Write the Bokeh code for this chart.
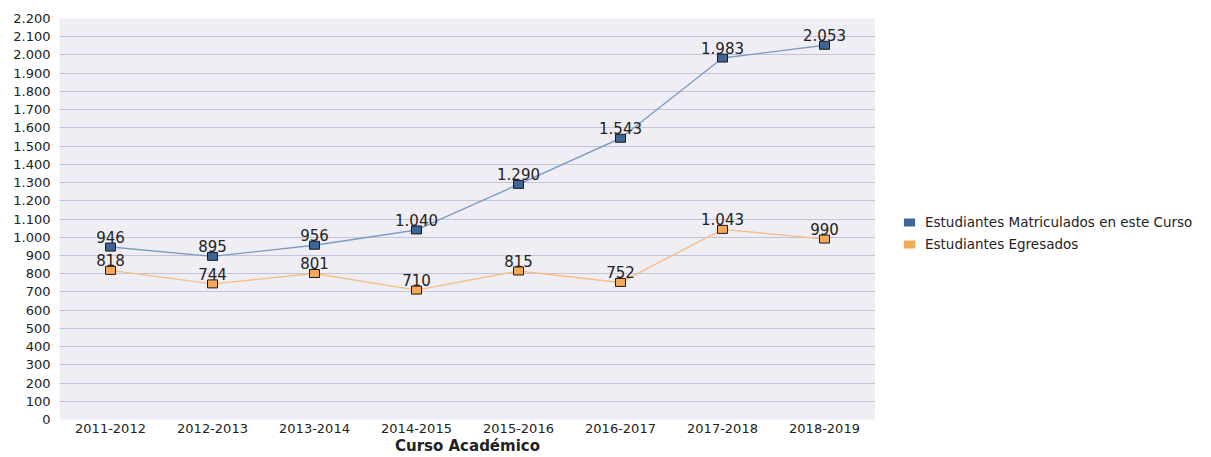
from bokeh.plotting import figure
from bokeh.layouts import row
from bokeh.models import ColumnDataSource, FixedTicker, Legend, LegendItem, Range1d
from bokeh.core.properties import value
from bokeh.embed import file_html
from bokeh.resources import INLINE

courses = ["2011-2012", "2012-2013", "2013-2014", "2014-2015",
           "2015-2016", "2016-2017", "2017-2018", "2018-2019"]
matriculados = [946, 895, 956, 1040, 1290, 1543, 1983, 2053]
egresados = [818, 744, 801, 710, 815, 752, 1043, 990]
y_ticks = list(range(0, 2201, 100))
series_names = ["Estudiantes Matriculados en este Curso", "Estudiantes Egresados"]
x_title = "Curso Académico"


def fmt(v):
    return f"{v:,}".replace(",", ".")


FONT = "DejaVu Sans"

p = figure(x_range=courses, width=875, height=457, output_backend="svg",
           toolbar_location=None, min_border_left=59, min_border_right=0,
           min_border_top=18, min_border_bottom=38)
p.y_range = Range1d(0, 2200)
p.background_fill_color = "#EFEEF4"
p.border_fill_color = "white"
p.outline_line_color = None
p.xgrid.grid_line_color = None
p.ygrid.grid_line_color = "#C4C3D9"
p.ygrid.grid_line_width = 1
p.yaxis.ticker = FixedTicker(ticks=y_ticks)
p.yaxis.major_label_overrides = {t: fmt(t) for t in y_ticks}

for ax in (p.xaxis, p.yaxis):
    ax.axis_line_color = None
    ax.major_tick_line_color = None
    ax.minor_tick_line_color = None
    ax.major_tick_out = 0
    ax.major_tick_in = 0
    ax.major_label_text_font = FONT
    ax.major_label_text_font_size = "13px"
    ax.major_label_text_color = "#222222"
p.yaxis.major_label_standoff = 9
p.xaxis.major_label_standoff = 4
p.xaxis.axis_label = x_title
p.xaxis.axis_label_text_font = FONT
p.xaxis.axis_label_text_font_style = "bold"
p.xaxis.axis_label_text_font_size = "15px"
p.xaxis.axis_label_text_color = "#222222"
p.xaxis.axis_label_standoff = 1

# legend panel (separate figure to the right of the plot)
lp = figure(width=336, height=457, output_backend="svg", toolbar_location=None,
            x_axis_type=None, y_axis_type=None, min_border=0,
            x_range=Range1d(0, 1), y_range=Range1d(0, 1))
lp.grid.grid_line_color = None
lp.outline_line_color = None
lp.background_fill_color = "white"
lp.border_fill_color = "white"

series = [
    (matriculados, "#7C9CC6", "#3D6596"),
    (egresados, "#F6BE86", "#F4A95A"),
]
legend_items = []
for (vals, line_c, fill_c), name in zip(series, series_names):
    src = ColumnDataSource(dict(x=courses, y=vals, lab=[fmt(v) for v in vals]))
    p.line("x", "y", source=src, line_color=line_c, line_width=1.4)
    p.rect("x", "y", source=src, width=10, height=8, width_units="screen",
           height_units="screen", fill_color=fill_c, line_color="#1A1A1A", line_width=1)
    p.text("x", "y", text="lab", source=src, text_align="center", text_baseline="bottom",
           y_offset=-4, text_font=value(FONT), text_font_size="15px", text_color="#222222")
    key = lp.rect(x=[0.5], y=[0.5], width=0, height=0, width_units="screen",
                  height_units="screen", fill_color=fill_c, line_color=None)
    legend_items.append(LegendItem(label=name, renderers=[key]))

legend = Legend(items=legend_items, location=(27, 167), padding=5, margin=0,
                glyph_width=14, glyph_height=10, label_standoff=9, spacing=6,
                label_text_font=FONT, label_text_font_size="13.5px",
                label_text_color="#222222", border_line_color=None,
                background_fill_alpha=0)
lp.add_layout(legend, "center")

layout = row(p, lp, spacing=0)
open("out.html", "w").write(file_html(layout, INLINE))
